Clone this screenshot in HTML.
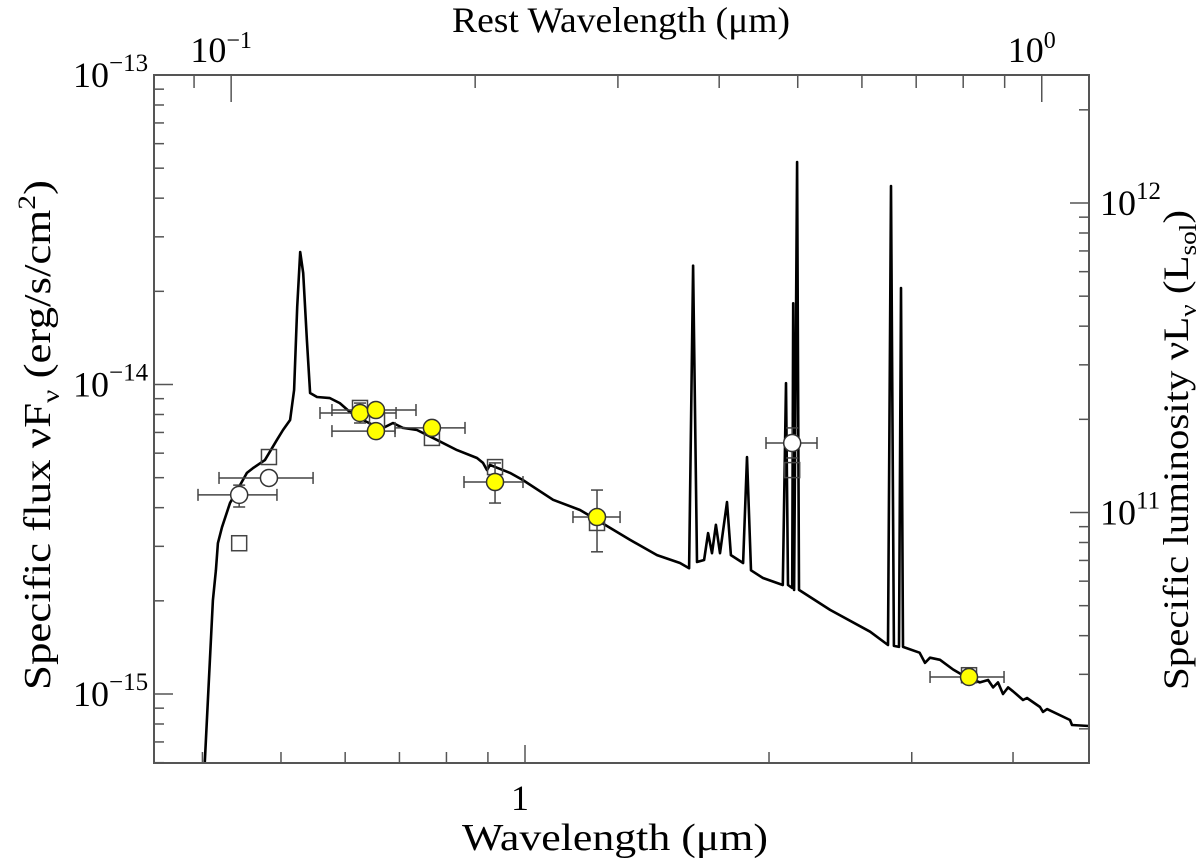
<!DOCTYPE html>
<html><head><meta charset="utf-8"><style>
html,body{margin:0;padding:0;background:#fff;}
svg{display:block;font-family:"Liberation Serif","DejaVu Serif",serif;}
</style></head><body>
<svg id="chart" width="1200" height="868" viewBox="0 0 1200 868" xmlns="http://www.w3.org/2000/svg">
<defs><clipPath id="plotclip"><rect x="154" y="75" width="935" height="688"/></clipPath></defs>
<g id="ticks"></g>
<g id="curve" clip-path="url(#plotclip)"></g>
<g id="marks"></g>
<rect x="154" y="75" width="935" height="688" fill="none" stroke="#555" stroke-width="2"/>
<g id="labels" font-size="36" fill="#000"></g>
<text x="462" y="850" font-size="38" textLength="306" lengthAdjust="spacingAndGlyphs">Wavelength (μm)</text>
<text x="452" y="32" font-size="36" textLength="338" lengthAdjust="spacingAndGlyphs">Rest Wavelength (μm)</text>
<text transform="translate(50,690) rotate(-90)" font-size="38" textLength="510" lengthAdjust="spacingAndGlyphs">Specific flux νF<tspan font-size="25" dy="9">ν</tspan><tspan dy="-9"> (erg/s/cm</tspan><tspan font-size="25" dy="-15">2</tspan><tspan dy="15">)</tspan></text>
<text transform="translate(1188,690) rotate(-90)" font-size="36" textLength="480" lengthAdjust="spacingAndGlyphs">Specific luminosity νL<tspan font-size="24" dy="8">ν</tspan><tspan dy="-8"> (L</tspan><tspan font-size="24" dy="8">sol</tspan><tspan dy="-8">)</tspan></text>
</svg>
<script>
// model curve: wavelength (µm) and flux (units of 1e-15 erg/s/cm^2)
const curveWl = [0.4027,0.4063,0.4121,0.4156,0.418,0.4229,0.4326,0.4539,0.4618,0.4777,
0.4943,0.5029,0.5131,0.519,0.5236,0.528,0.5325,0.5382,0.5431,0.5538,
0.5746,0.591,0.6081,0.6311,0.6568,0.6682,0.6874,0.707,0.7358,0.7787,
0.8244,0.8726,0.8876,0.8977,0.9054,0.9583,0.9943,1.083,1.169,1.227,
1.347,1.455,1.553,1.594,1.612,1.630,1.663,1.682,1.701,1.720,
1.740,1.775,1.795,1.858,1.879,1.900,1.966,2.080,2.099,2.111,
2.136,2.142,2.148,2.166,2.178,2.379,2.665,2.804,2.828,2.852,
2.893,2.910,2.926,3.068,3.115,3.160,3.251,3.374,3.510,3.641,
3.727,3.780,3.833,3.888,3.944,4.000,4.115,4.162,4.318,4.355,
4.406,4.703,4.730,4.964];
const curveFlux = [0.603,0.956,2.01,2.51,3.07,3.46,4.14,5.18,5.37,5.70,
6.62,7.13,7.68,9.60,17.8,26.8,22.9,13.9,9.39,9.11,
9.04,8.71,8.15,7.68,7.29,7.24,7.51,7.24,7.13,6.62,
6.14,5.79,5.58,5.29,5.50,5.18,4.91,4.24,3.93,3.65,
3.15,2.81,2.65,2.55,24.2,2.67,2.71,3.31,2.85,3.52,
2.85,4.17,2.81,2.65,5.83,2.51,2.37,2.25,10.1,2.25,
2.2,18.3,2.17,52.3,2.17,1.87,1.59,1.44,43.8,1.43,
1.42,20.5,1.42,1.36,1.26,1.31,1.29,1.20,1.13,1.09,
1.11,1.05,1.09,1.00,1.05,1.02,0.956,0.971,0.908,0.875,
0.894,0.824,0.794,0.788];
// yellow photometry
const yelWl = [0.6258,0.6548,0.6548,0.7677,0.9184,1.227,3.530];
const yelFlux = [8.09,8.27,7.07,7.24,4.84,3.73,1.135];
const yelWlLo = [0.5586,0.5779,0.5779,0.6913,0.8409,1.146,3.160];
const yelWlHi = [0.6933,0.7337,0.6913,0.8433,0.9943,1.310,3.899];
const yelFluxLo = [7.51,7.9,6.8,7.0,4.14,2.88,1.10];
const yelFluxHi = [8.71,8.6,7.3,7.5,5.58,4.56,1.17];
// open circles
const openWl = [0.4440,0.4832,2.136];
const openFlux = [4.40,4.99,6.47];
const openWlLo = [0.3950,0.4193,1.983];
const openWlHi = [0.4943,0.5477,2.292];
const openFluxLo = [4.02,4.8,5.79];
const openFluxHi = [4.73,5.2,7.24];
// open squares
const sqWl = [0.4440,0.4832,0.6258,0.6568,0.7677,0.9184,1.227,2.136,3.530];
const sqFlux = [3.07,5.83,8.40,7.68,6.72,5.41,3.57,5.29,1.15];
// axis ticks
const xMajor = [1];
const xMinor = [0.4,0.5,0.6,0.7,0.8,0.9,2,3,4];
const restMajor = [0.1,1.0];
const restMinor = [0.09,0.2,0.3,0.4,0.5,0.6,0.7,0.8,0.9];
const redshift1p = 4.34;
const yMajorExp = [-13,-14,-15];
const lumMajorExp = [12,11];

const FUNIT = 1e-15;
const X = w => 525 + 810.6*Math.log10(w);
const Y = f => 75 + 309.5*(-13 - Math.log10(f*FUNIT));
const YL = L => 203 + 309.5*(12 - Math.log10(L));
const NS = 'http://www.w3.org/2000/svg';
function mk(tag, parent, attrs){const e=document.createElementNS(NS,tag);for(const k in attrs)e.setAttribute(k,attrs[k]);parent.appendChild(e);return e;}
const ticks=document.getElementById('ticks'), labels=document.getElementById('labels');
const tcol='#555';
xMajor.forEach(w=>{const x=X(w);
 let t=mk('line',ticks,{x1:x,x2:x,y1:763,y2:745,stroke:tcol,'stroke-width':1.5});
 
 
 let l=mk('text',labels,{x:x-5,y:810,'text-anchor':'middle'});l.textContent=String(w);
 
 
});
xMinor.forEach(w=>{const x=X(w);
 let t=mk('line',ticks,{x1:x,x2:x,y1:763,y2:752,stroke:tcol,'stroke-width':1.5});
 
 
});
restMajor.forEach((r,i)=>{const x=X(r*redshift1p);
 let t=mk('line',ticks,{x1:x,x2:x,y1:75,y2:102,stroke:tcol,'stroke-width':1.5});
 
 
 let l=mk('text',labels,{x:x-10,y:62,'text-anchor':'middle'});
 l.innerHTML='10<tspan font-size="24" dy="-14">'+(i===0?'−1':'0')+'</tspan>';
 
 
});
restMinor.forEach(r=>{const x=X(r*redshift1p);
 let t=mk('line',ticks,{x1:x,x2:x,y1:75,y2:88,stroke:tcol,'stroke-width':1.5});
 
 
});
yMajorExp.forEach(e=>{const y=Y(Math.pow(10,e)/FUNIT);
 let t=mk('line',ticks,{x1:154,x2:173,y1:y,y2:y,stroke:tcol,'stroke-width':1.5});
 
 
 let l=mk('text',labels,{x:73,y:y+12});
 l.innerHTML='10<tspan font-size="25" dy="-16">−'+(-e)+'</tspan>';
 
 
 for(let m=2;m<=9;m++){const yy=Y(m*Math.pow(10,e-1)/FUNIT);
  if(yy<75||yy>763)continue;
  let mt=mk('line',ticks,{x1:154,x2:164,y1:yy,y2:yy,stroke:tcol,'stroke-width':1.5});
  
  }
});
[12,11,10].forEach(e=>{
 const y=YL(Math.pow(10,e));
 if(lumMajorExp.includes(e)){
  let t=mk('line',ticks,{x1:1089,x2:1070,y1:y,y2:y,stroke:tcol,'stroke-width':1.5});
  
  
  let l=mk('text',labels,{x:1100,y:y+12});
  l.innerHTML='10<tspan font-size="25" dy="-16">'+e+'</tspan>';
  
  
 }
 for(let m=2;m<=9;m++){const yy=YL(m*Math.pow(10,e));
  if(yy<75||yy>763)continue;
  let mt=mk('line',ticks,{x1:1089,x2:1079,y1:yy,y2:yy,stroke:tcol,'stroke-width':1.5});
  
  }
});
const cg=document.getElementById('curve');
const d=curveWl.map((w,i)=>(i?'L':'M')+X(w).toFixed(1)+','+Y(curveFlux[i]).toFixed(1)).join(' ');
const cp=mk('path',cg,{d:d,fill:'none',stroke:'#000','stroke-width':2.6,'stroke-linejoin':'round'});


const mg=document.getElementById('marks');
function errbars(wl,fl,wlo,whi,flo,fhi,name){
 wl.forEach((w,i)=>{
  const x=X(w),y=Y(fl[i]),x1=X(wlo[i]),x2=X(whi[i]),y1=Y(fhi[i]),y2=Y(flo[i]);
  const g=mk('g',mg,{stroke:'#444','stroke-width':1.5,fill:'none'});
  
  
  mk('line',g,{x1:x1,x2:x2,y1:y,y2:y});
  mk('line',g,{x1:x1,x2:x1,y1:y-6,y2:y+6});
  mk('line',g,{x1:x2,x2:x2,y1:y-6,y2:y+6});
  mk('line',g,{x1:x,x2:x,y1:y1,y2:y2});
  mk('line',g,{x1:x-6,x2:x+6,y1:y1,y2:y1});
  mk('line',g,{x1:x-6,x2:x+6,y1:y2,y2:y2});
 });
}
sqWl.forEach((w,i)=>{
 const s=mk('rect',mg,{x:X(w)-7.5,y:Y(sqFlux[i])-7.5,width:15,height:15,fill:'none',stroke:'#444','stroke-width':1.5});
 
 
});
errbars(openWl,openFlux,openWlLo,openWlHi,openFluxLo,openFluxHi,'open-point-errorbar');
errbars(yelWl,yelFlux,yelWlLo,yelWlHi,yelFluxLo,yelFluxHi,'yellow-point-errorbar');
openWl.forEach((w,i)=>{
 const c=mk('circle',mg,{cx:X(w),cy:Y(openFlux[i]),r:8.5,fill:'#fff',stroke:'#333','stroke-width':1.5});
 
 
});
yelWl.forEach((w,i)=>{
 const c=mk('circle',mg,{cx:X(w),cy:Y(yelFlux[i]),r:8.5,fill:'#ffff00',stroke:'#333','stroke-width':1.5});
 
 
});
</script>
</body></html>
